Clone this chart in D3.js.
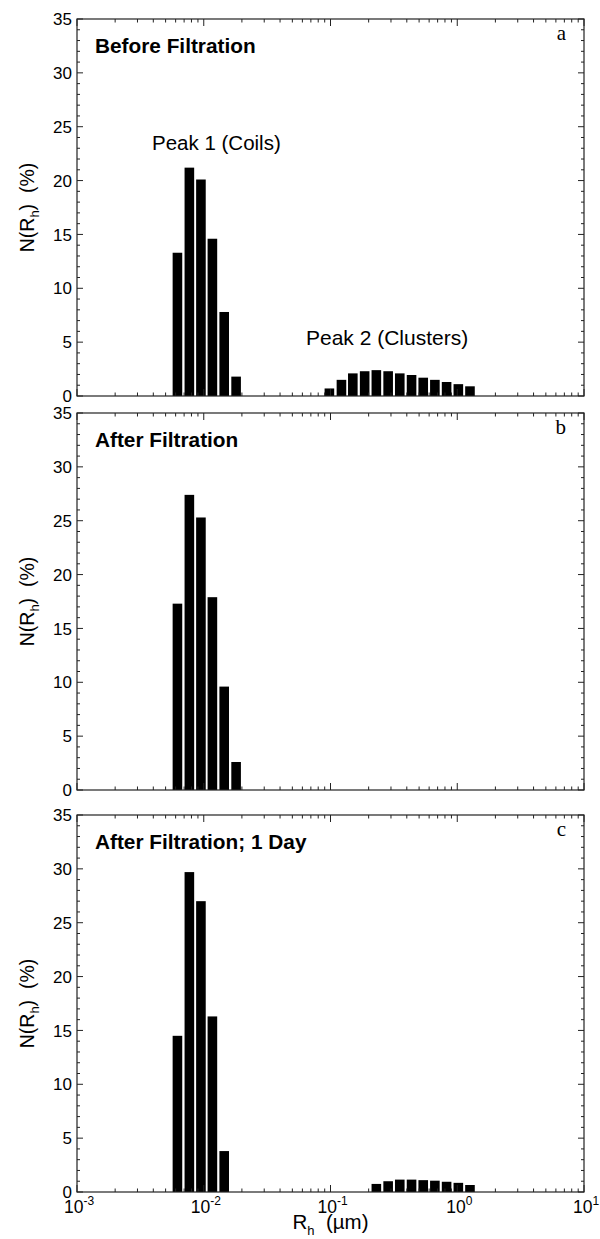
<!DOCTYPE html>
<html>
<head>
<meta charset="UTF-8">
<title>Rh distributions</title>
<script src="https://cdn.jsdelivr.net/npm/d3@7"></script>
<style>
  body { margin: 0; background: #fff; }
  svg text { font-family: "Liberation Sans", Arial, Helvetica, sans-serif; fill: #000; }
</style>
</head>
<body>
<div id="chart"></div>
<script>
// bin centres, Rh in µm
const peak1Rh = [0.0062, 0.0077, 0.0095, 0.0117, 0.0145, 0.0180];
const peak2Rh = [0.098, 0.122, 0.150, 0.186, 0.230, 0.285, 0.352, 0.436, 0.539, 0.666, 0.824, 1.02, 1.26];

// N(Rh) in %
const beforePeak1 = [13.3, 21.2, 20.1, 14.6, 7.8, 1.8];
const beforePeak2 = [0.7, 1.5, 2.1, 2.3, 2.4, 2.3, 2.1, 1.95, 1.7, 1.5, 1.3, 1.1, 0.9];
const afterPeak1 = [17.3, 27.4, 25.3, 17.9, 9.6, 2.6];
const dayPeak1Rh = [0.0062, 0.0077, 0.0095, 0.0117, 0.0145];
const dayPeak1 = [14.5, 29.7, 27.0, 16.3, 3.8];
const dayPeak2Rh = [0.230, 0.285, 0.352, 0.436, 0.539, 0.666, 0.824, 1.02, 1.26];
const dayPeak2 = [0.75, 1.0, 1.15, 1.15, 1.1, 1.05, 0.95, 0.85, 0.65];

const yTicks = [0, 5, 10, 15, 20, 25, 30, 35];
const xTicks = [1e-3, 1e-2, 1e-1, 1e0, 1e1];
const xTickExp = ["-3", "-2", "-1", "0", "1"];

const panelTitles = ["Before Filtration", "After Filtration", "After Filtration; 1 Day"];
const panelLetters = ["a", "b", "c"];

const panels = [
  { bars: [{ x: peak1Rh, y: beforePeak1 }, { x: peak2Rh, y: beforePeak2 }] },
  { bars: [{ x: peak1Rh, y: afterPeak1 }] },
  { bars: [{ x: dayPeak1Rh, y: dayPeak1 }, { x: dayPeak2Rh, y: dayPeak2 }] }
];

const W = 600, H = 1239;
const left = 77, right = 584;
const tops = [19, 413, 815];
const ph = 377;
const barW = 9.6;

const svg = d3.select("#chart").append("svg")
  .attr("width", W).attr("height", H);

const x = d3.scaleLog().domain([1e-3, 1e1]).range([left, right]);

// minor x ticks: 2..9 in each decade
const xMinor = [];
for (let d = -3; d < 1; d++) {
  for (let m = 2; m <= 9; m++) xMinor.push(m * Math.pow(10, d));
}
const yMinor = d3.range(0, 36, 1).filter(v => v % 5 !== 0);

panels.forEach((p, i) => {
  const top = tops[i], bottom = top + ph;
  const y = d3.scaleLinear().domain([0, 35]).range([bottom, top]);
  const g = svg.append("g");

  // bars
  p.bars.forEach(s => {
    g.selectAll(null)
      .data(s.x.map((v, j) => [v, s.y[j]]))
      .enter().append("rect")
      .attr("x", d => x(d[0]) - barW / 2)
      .attr("width", barW)
      .attr("y", d => y(d[1]))
      .attr("height", d => y(0) - y(d[1]))
      .attr("fill", "#000");
  });

  // frame
  g.append("rect")
    .attr("x", left).attr("y", top)
    .attr("width", right - left).attr("height", ph)
    .attr("fill", "none").attr("stroke", "#222").attr("stroke-width", 1.2);

  // y ticks, both sides, inward
  const yt = (vals, len) => {
    g.selectAll(null).data(vals).enter().append("line")
      .attr("x1", left).attr("x2", left + len)
      .attr("y1", d => y(d)).attr("y2", d => y(d))
      .attr("stroke", "#222");
    g.selectAll(null).data(vals).enter().append("line")
      .attr("x1", right).attr("x2", right - len)
      .attr("y1", d => y(d)).attr("y2", d => y(d))
      .attr("stroke", "#222");
  };
  yt(yTicks, 6);
  yt(yMinor, 3);

  // x ticks, top and bottom, inward
  const xt = (vals, len) => {
    g.selectAll(null).data(vals).enter().append("line")
      .attr("x1", d => x(d)).attr("x2", d => x(d))
      .attr("y1", bottom).attr("y2", bottom - len)
      .attr("stroke", "#222");
    g.selectAll(null).data(vals).enter().append("line")
      .attr("x1", d => x(d)).attr("x2", d => x(d))
      .attr("y1", top).attr("y2", top + len)
      .attr("stroke", "#222");
  };
  xt(xTicks, 7);
  xt(xMinor, 3.5);

  // y tick labels
  g.selectAll(null).data(yTicks).enter().append("text")
    .attr("x", left - 5).attr("y", d => y(d))
    .attr("dy", "0.36em")
    .attr("text-anchor", "end")
    .attr("font-size", 17)
    .text(d => d);

  // y title
  const yl = g.append("text")
    .attr("transform", `translate(34,${(top + bottom) / 2}) rotate(-90)`)
    .attr("text-anchor", "middle")
    .attr("font-size", 19.5);
  yl.append("tspan").text("N(R");
  yl.append("tspan").attr("font-size", 13).attr("dy", 5).text("h");
  yl.append("tspan").attr("dy", -5).text(")\u00a0\u00a0(%)");

  // panel title
  g.append("text")
    .attr("x", 95).attr("y", top + 34)
    .attr("font-size", 20.8).attr("font-weight", "bold")
    .text(panelTitles[i]);

  // panel letter
  g.append("text")
    .attr("x", 566).attr("y", top + 21)
    .attr("text-anchor", "end")
    .attr("font-size", 21)
    .style("font-family", "'Liberation Serif', 'Times New Roman', serif")
    .text(panelLetters[i]);
});

// peak annotations on panel a
svg.append("text").attr("x", 152).attr("y", 150)
  .attr("font-size", 20.5).text("Peak 1 (Coils)");
svg.append("text").attr("x", 306).attr("y", 345)
  .attr("font-size", 21).text("Peak 2 (Clusters)");

// x tick labels, bottom panel only
const bottomY = tops[2] + ph;
const xl = svg.selectAll(".xl").data(xTicks).enter().append("text")
  .attr("class", "xl")
  .attr("x", d => x(d) + 2)
  .attr("y", bottomY + 21)
  .attr("text-anchor", "middle")
  .attr("font-size", 17.5);
xl.append("tspan").text("10");
xl.append("tspan").attr("font-size", 12).attr("dy", -8).text((d, i) => xTickExp[i]);

// x title
const xtl = svg.append("text")
  .attr("x", (left + right) / 2).attr("y", bottomY + 37)
  .attr("text-anchor", "middle")
  .attr("font-size", 20.5);
xtl.append("tspan").text("R");
xtl.append("tspan").attr("font-size", 13).attr("dy", 6).text("h");
xtl.append("tspan").attr("dy", -6).text("\u00a0\u00a0(\u00b5m)");
</script>
</body>
</html>
